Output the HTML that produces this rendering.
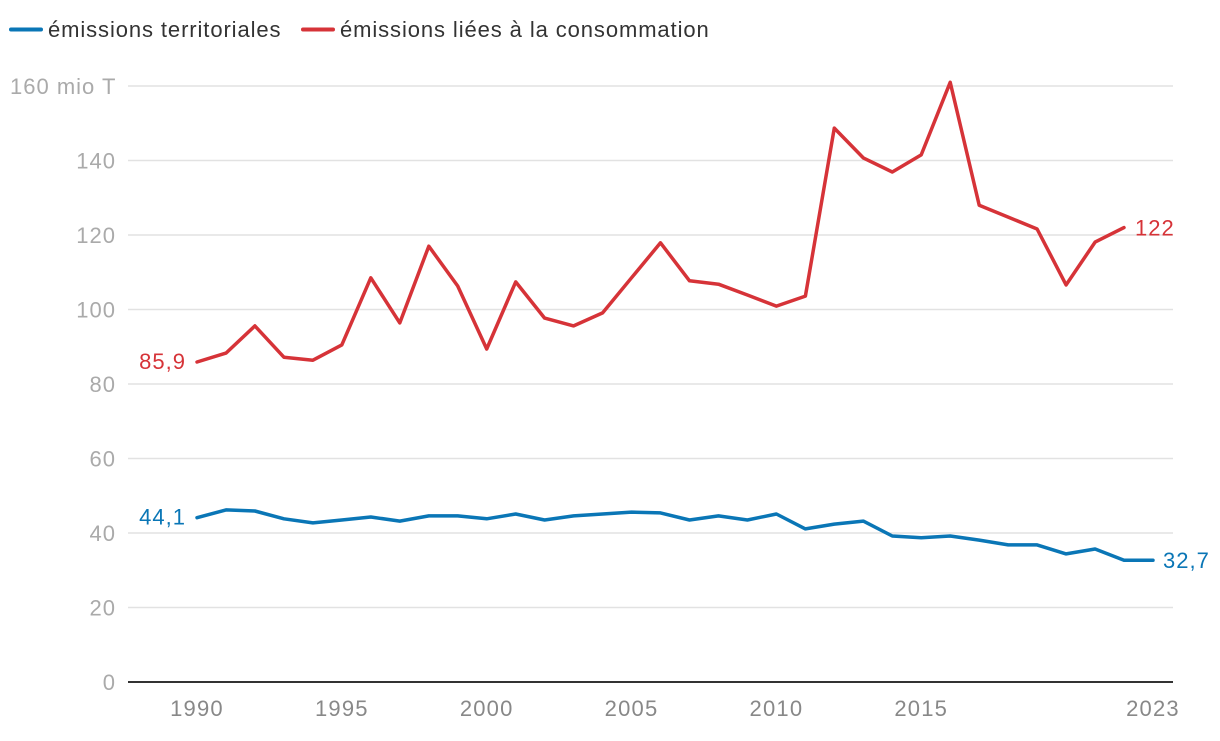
<!DOCTYPE html>
<html><head><meta charset="utf-8">
<style>
body{margin:0;background:#fff;width:1220px;height:736px;overflow:hidden;font-family:"Liberation Sans",sans-serif}
svg text{font-family:"Liberation Sans",sans-serif}
</style></head>
<body>
<svg id="chart" width="1220" height="736">
<g>
 <g>
  <line x1="11" y1="29.5" x2="41" y2="29.5" stroke="#0a76b6" stroke-width="4" stroke-linecap="round"/>
  <text x="48" y="37" font-size="22" letter-spacing="0.9" fill="#333">émissions territoriales</text>
 </g>
 <g>
  <line x1="303" y1="29.5" x2="333" y2="29.5" stroke="#d63338" stroke-width="4" stroke-linecap="round"/>
  <text x="340" y="37" font-size="22" letter-spacing="0.9" fill="#333">émissions liées à la consommation</text>
 </g>
</g>
<g id="grid"></g>
<g id="marks"></g>
</svg>
<script>
const years=[1990,1991,1992,1993,1994,1995,1996,1997,1998,1999,2000,2001,2002,2003,2004,2005,2006,2007,2008,2009,2010,2011,2012,2013,2014,2015,2016,2017,2018,2019,2020,2021,2022,2023];
const territorial=[44.1,46.2,45.9,43.8,42.7,43.5,44.3,43.2,44.6,44.6,43.8,45.1,43.5,44.6,45.1,45.6,45.4,43.5,44.6,43.5,45.1,41.1,42.4,43.2,39.2,38.7,39.2,38.1,36.8,36.8,34.4,35.7,32.7,32.7];
const consumption=[85.9,88.3,95.6,87.2,86.4,90.5,108.5,96.4,117,106.3,89.4,107.4,97.7,95.6,99.1,108.5,117.9,107.7,106.8,103.9,100.9,103.6,148.7,140.7,136.9,141.5,161,128,124.8,121.6,106.6,118.1,122];
const yTicks=[0,20,40,60,80,100,120,140,160];
const xTicks=[1990,1995,2000,2005,2010,2015,2023];
const NS="http://www.w3.org/2000/svg";
const x=v=>197+(v-1990)*(1153-197)/33;
const y=v=>682-v*(682-86)/160;
function mk(tag,attrs,parent,txt){const e=document.createElementNS(NS,tag);for(const k in attrs)e.setAttribute(k,attrs[k]);if(txt!==undefined)e.textContent=txt;parent.appendChild(e);return e;}
const grid=document.getElementById('grid'),marks=document.getElementById('marks');
yTicks.forEach(t=>{
 if(t>0){const l=mk('line',{x1:128,x2:1173,y1:y(t),y2:y(t),stroke:'#e2e2e2','stroke-width':1.5},grid);
 
 }
 const tx=mk('text',{x:t===160?10:116,y:y(t)+8,'font-size':22,'letter-spacing':1,fill:'#aaa','text-anchor':t===160?'start':'end'},grid,t===160?'160 mio T':String(t));
 
 
});
const base=mk('line',{x1:128,x2:1173,y1:682,y2:682,stroke:'#333','stroke-width':2},grid);


xTicks.forEach(t=>{
 const tx=mk('text',{x:x(t),y:716,'font-size':22,'letter-spacing':1.2,fill:'#888','text-anchor':'middle'},grid,String(t));
 
 
});
function line(vals,color,name){
 const d=vals.map((v,i)=>(i?'L':'M')+x(years[i]).toFixed(1)+','+y(v).toFixed(1)).join('');
 const p=mk('path',{d:d,fill:'none',stroke:color,'stroke-width':3.5,'stroke-linejoin':'round','stroke-linecap':'round'},marks);
 
 
}
line(territorial,'#0a76b6','line-territorial');
line(consumption,'#d63338','line-consumption');
const fmt=v=>String(v).replace('.',',');
function lab(txt,xx,yy,color,anchor,name){
 const t=mk('text',{x:xx,y:yy,'font-size':22,'letter-spacing':1,fill:color,'text-anchor':anchor},marks,txt);
 
 
}
lab(fmt(consumption[0]),x(years[0])-11,y(consumption[0])+7,'#d63338','end','label-consumption-start');
lab(fmt(territorial[0]),x(years[0])-11,y(territorial[0])+7,'#0a76b6','end','label-territorial-start');
const cl=consumption.length-1,tl=territorial.length-1;
lab(fmt(consumption[cl]),x(years[cl])+11,y(consumption[cl])+8,'#d63338','start','label-consumption-end');
lab(fmt(territorial[tl]),x(years[tl])+10,y(territorial[tl])+8,'#0a76b6','start','label-territorial-end');
</script>
</body></html>
